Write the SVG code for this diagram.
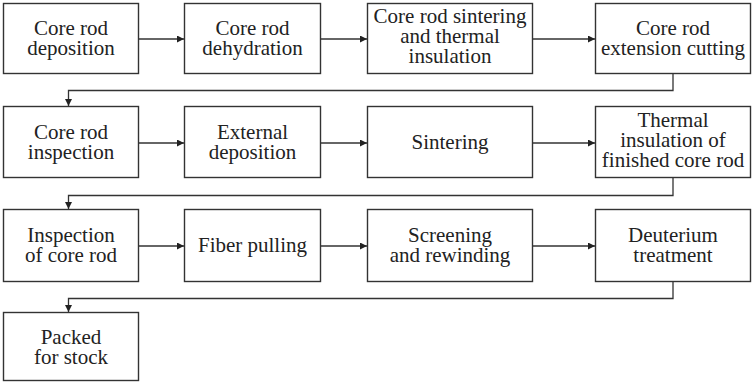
<svg xmlns="http://www.w3.org/2000/svg" width="752" height="384" viewBox="0 0 752 384">
  <style>
    .box { fill: #ffffff; stroke: #333333; stroke-width: 1.4; }
    .lbl { font-family: "Liberation Serif", "Times New Roman", Times, serif; font-size: 21px; fill: #222222; text-anchor: middle; }
    .link { fill: none; stroke: #333333; stroke-width: 1.3; marker-end: url(#arrow); }
  </style>
  <defs>
    <marker id="arrow" viewBox="0 0 10 10" refX="10" refY="5" markerWidth="9" markerHeight="7" markerUnits="userSpaceOnUse" orient="auto">
      <path d="M0,0 L10,5 L0,10 Z" fill="#222222"/>
    </marker>
  </defs>
  <rect width="752" height="384" fill="#ffffff"/>

  <!-- row 1 -->
  <g id="n1"><rect class="box" x="3.5" y="3.5" width="135" height="70"/>
    <text class="lbl" x="71" y="35">Core rod</text><text class="lbl" x="71" y="55">deposition</text></g>
  <g id="n2"><rect class="box" x="184.5" y="3.5" width="136" height="70"/>
    <text class="lbl" x="252.5" y="35">Core rod</text><text class="lbl" x="252.5" y="55">dehydration</text></g>
  <g id="n3"><rect class="box" x="367.5" y="3.5" width="165" height="70"/>
    <text class="lbl" x="450" y="23">Core rod sintering</text><text class="lbl" x="450" y="43">and thermal</text><text class="lbl" x="450" y="63">insulation</text></g>
  <g id="n4"><rect class="box" x="595.5" y="3.5" width="155" height="70"/>
    <text class="lbl" x="673" y="35">Core rod</text><text class="lbl" x="673" y="55">extension cutting</text></g>

  <!-- row 2 -->
  <g id="n5"><rect class="box" x="3.5" y="106.5" width="135" height="71"/>
    <text class="lbl" x="71" y="139">Core rod</text><text class="lbl" x="71" y="159">inspection</text></g>
  <g id="n6"><rect class="box" x="184.5" y="106.5" width="136" height="71"/>
    <text class="lbl" x="252.5" y="139">External</text><text class="lbl" x="252.5" y="159">deposition</text></g>
  <g id="n7"><rect class="box" x="367.5" y="106.5" width="165" height="71"/>
    <text class="lbl" x="450" y="149">Sintering</text></g>
  <g id="n8"><rect class="box" x="595.5" y="106.5" width="155" height="71"/>
    <text class="lbl" x="673" y="127">Thermal</text><text class="lbl" x="673" y="147">insulation of</text><text class="lbl" x="673" y="167">finished core rod</text></g>

  <!-- row 3 -->
  <g id="n9"><rect class="box" x="3.5" y="209.5" width="135" height="72"/>
    <text class="lbl" x="71" y="242">Inspection</text><text class="lbl" x="71" y="262">of core rod</text></g>
  <g id="n10"><rect class="box" x="184.5" y="209.5" width="136" height="72"/>
    <text class="lbl" x="252.5" y="252">Fiber pulling</text></g>
  <g id="n11"><rect class="box" x="367.5" y="209.5" width="165" height="72"/>
    <text class="lbl" x="450" y="242">Screening</text><text class="lbl" x="450" y="262">and rewinding</text></g>
  <g id="n12"><rect class="box" x="595.5" y="209.5" width="155" height="72"/>
    <text class="lbl" x="673" y="242">Deuterium</text><text class="lbl" x="673" y="262">treatment</text></g>

  <!-- row 4 -->
  <g id="n13"><rect class="box" x="3.5" y="312.5" width="135" height="68"/>
    <text class="lbl" x="71" y="344">Packed</text><text class="lbl" x="71" y="364">for stock</text></g>

  <!-- connectors -->
  <g id="links">
    <path class="link" d="M139,39 H184"/>
    <path class="link" d="M321,39 H367"/>
    <path class="link" d="M533,39 H595"/>
    <path class="link" d="M673,74 V90.5 H68.5 V106"/>

    <path class="link" d="M139,143 H184"/>
    <path class="link" d="M321,143 H367"/>
    <path class="link" d="M533,143 H595"/>
    <path class="link" d="M673,178 V195.5 H68.5 V209"/>

    <path class="link" d="M139,246 H184"/>
    <path class="link" d="M321,246 H367"/>
    <path class="link" d="M533,246 H595"/>
    <path class="link" d="M673,282 V298.5 H68.5 V312"/>
  </g>
</svg>
